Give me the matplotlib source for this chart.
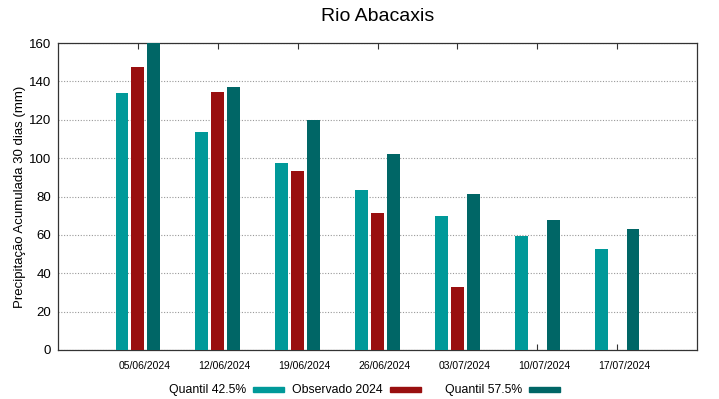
import matplotlib
matplotlib.use('Agg')
import matplotlib.pyplot as plt
from matplotlib.patches import Rectangle
import numpy as np

plt.rcParams['font.family'] = ['Liberation Sans', 'DejaVu Sans']

# data
datas = ['05/06/2024', '12/06/2024', '19/06/2024', '26/06/2024',
         '03/07/2024', '10/07/2024', '17/07/2024']
q425 = [134.0, 113.5, 97.4, 83.2, 70.0, 59.3, 52.5]
obs2024 = [147.5, 134.3, 93.2, 71.4, 32.8, np.nan, np.nan]
q575 = [160.0, 137.3, 120.1, 102.4, 81.3, 68.0, 62.9]
series = ['Quantil 42.5%', 'Observado 2024', 'Quantil 57.5%']

cor_q425 = '#009999'
cor_obs = '#990f0f'
cor_q575 = '#006666'
cores = [cor_q425, cor_obs, cor_q575]

fig = plt.figure(figsize=(7.19, 3.99), dpi=100)
ax = fig.add_axes([58/719, 49/399, 639/719, 307/399])

x = np.arange(len(datas))
w = 0.16
ax.bar(x - 0.2, q425, w, color=cor_q425, zorder=3)
ax.bar(x, obs2024, w, color=cor_obs, zorder=3)
ax.bar(x + 0.2, q575, w, color=cor_q575, zorder=3)

ax.set_xlim(-1, 7)
ax.set_ylim(0, 160)
ax.set_yticks(np.arange(0, 161, 20))
# tick marks on the dates, labels a bit to the right (as gnuplot drew them)
ax.set_xticks(x)
ax.set_xticklabels([])
ax.set_xticks(x + 0.085, minor=True)
ax.set_xticklabels(datas, minor=True, fontsize=7.5)
ax.tick_params(axis='x', which='major', direction='in', top=True, length=4, color='#333333')
ax.tick_params(axis='x', which='minor', length=0, pad=8)
ax.tick_params(axis='y', direction='in', right=True, length=0, labelsize=9.5, pad=5)
ax.yaxis.grid(True, linestyle=(0, (1, 1.5)), color='#999999', linewidth=0.8, zorder=0)
for s in ax.spines.values():
    s.set_color('#333333')
    s.set_linewidth(0.9)

ax.set_ylabel('Precipitação Acumulada 30 dias (mm)', fontsize=9.5, labelpad=2)
ax.set_title('Rio Abacaxis', fontsize=14, pad=16)

# legend in gnuplot style: text then colour sample, one row under the axis
fim_texto = [246, 383, 522]
for nome, cor, xt in zip(series, cores, fim_texto):
    fig.text(xt/719, 1 - 390/399, nome, ha='right', va='center', fontsize=8.8)
    fig.patches.append(Rectangle(((xt + 7)/719, 1 - 392/399), 31/719, 5.5/399,
                                 transform=fig.transFigure, color=cor))

fig.savefig('out.png', dpi=100)
